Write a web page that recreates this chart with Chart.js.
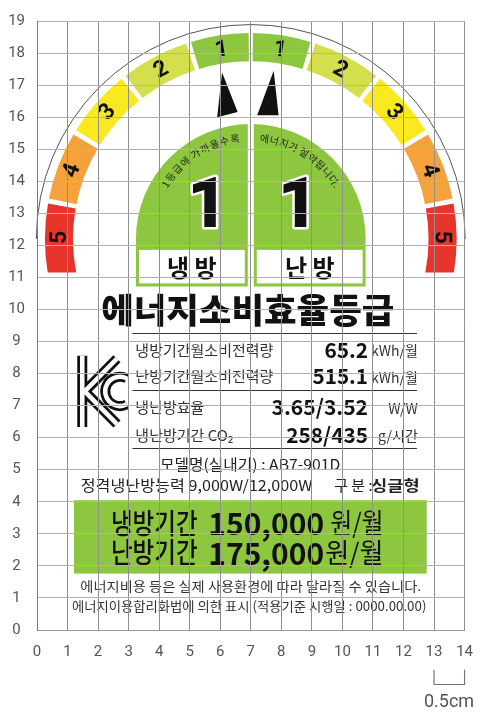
<!DOCTYPE html>
<html>
<head>
<meta charset="utf-8">
<script src="https://cdn.jsdelivr.net/npm/chart.js@4.4.1/dist/chart.umd.min.js"></script>
<style>
  html, body { margin: 0; padding: 0; background: #fff; }
  canvas { display: block; }
</style>
</head>
<body>
<canvas id="labelChart" width="486" height="716"></canvas>
<script>
// grid tick labels
const xTickLabels = ['0', '1', '2', '3', '4', '5', '6', '7', '8', '9', '10', '11', '12', '13', '14'];
const yTickLabels = ['0', '1', '2', '3', '4', '5', '6', '7', '8', '9', '10', '11', '12', '13', '14', '15', '16', '17', '18', '19'];

// grade ring (outside -> top)
const gradeSteps = ['5', '4', '3', '2', '1'];
const gradeColors = ['#e8352b', '#f6a23c', '#fbe91f', '#d5df4e', '#8dc63f'];
const modeNames = ['냉 방', '난 방'];
const modeGrades = ['1', '1'];
const arcNotes = ['1등급에 가까울수록', '에너지가 절약됩니다.'];

// label texts
const titleText = '에너지소비효율등급';
const specLabels = ['냉방기간월소비전력량', '난방기간월소비전력량', '냉난방효율', '냉난방기간 CO₂'];
const specValues = ['65.2', '515.1', '3.65/3.52', '258/435'];
const specUnits = ['kWh/월', 'kWh/월', 'W/W', 'g/시간'];
const modelText = '모델명(실내기) : AB7-901D';
const capacityText = '정격냉난방능력 9,000W/12,000W';
const typeLabel = '구 분 :';
const typeValue = '싱글형';
const costLabels = ['냉방기간', '난방기간'];
const costValues = [150000, 175000];
const costUnit = '원/월';
const footNotes = ['에너지비용 등은 실제 사용환경에 따라 달라질 수 있습니다.',
                   '에너지이용합리화법에 의한 표시 (적용기준 시행일 : 0000.00.00)'];
const scaleNote = '0.5cm';

const KR = '"Noto Sans CJK KR", "Noto Sans", sans-serif';
const GREEN = '#8dc63f';

// draw text squeezed/stretched to a given width (in pixels)
function fitText(ctx, text, px, py, w, align) {
    const m = ctx.measureText(text).width || 1;
    ctx.save();
    ctx.translate(px, py);
    ctx.scale(w / m, 1);
    ctx.textAlign = align;
    ctx.fillText(text, 0, 0);
    ctx.restore();
}

function arcText(ctx, text, cx, cy, r, th0, th1) {
    const chars = Array.from(text);
    const widths = chars.map(c => ctx.measureText(c).width);
    const total = widths.reduce((a, b) => a + b, 0);
    let acc = 0;
    chars.forEach((c, i) => {
        const mid = acc + widths[i] / 2;
        acc += widths[i];
        const th = th0 + (th1 - th0) * mid / total;
        ctx.save();
        ctx.translate(cx + r * Math.cos(th), cy + r * Math.sin(th));
        ctx.rotate(th + Math.PI / 2);
        ctx.fillText(c, 0, 0);
        ctx.restore();
    });
}

const deg = d => d * Math.PI / 180;

const labelArt = {
    id: 'labelArt',
    beforeDraw(chart) {
        const { ctx, scales: { x, y } } = chart;
        const X = v => x.getPixelForValue(v);
        const Y = v => y.getPixelForValue(v);
        const u = X(1) - X(0);
        const cx = X(7), cy = Y(12.2);

        ctx.save();
        ctx.fillStyle = '#fff';
        ctx.fillRect(0, 0, chart.width, chart.height);

        // thin outer arc
        ctx.beginPath();
        ctx.arc(cx, cy, 7.02 * u, Math.PI, 2 * Math.PI);
        ctx.strokeStyle = '#555';
        ctx.lineWidth = 1;
        ctx.stroke();

        // grade bands
        const rOut = 6.74 * u, rIn = 5.82 * u, rMid = (rOut + rIn) / 2;
        ctx.save();
        ctx.beginPath();
        ctx.rect(0, 0, chart.width, Y(11.15));
        ctx.clip();
        const step = 20.6;
        [-1, 1].forEach(side => {
            gradeSteps.forEach((g, i) => {
                const a0 = i === 0 ? -14 : -10 + i * step + 0.7;
                const a1 = i === gradeSteps.length - 1 ? 89.4 : -10 + (i + 1) * step - 0.7;
                const toTh = a => side < 0 ? Math.PI + deg(a) : 2 * Math.PI - deg(a);
                const t0 = Math.min(toTh(a0), toTh(a1)), t1 = Math.max(toTh(a0), toTh(a1));
                ctx.beginPath();
                ctx.arc(cx, cy, rOut, t0, t1, false);
                ctx.arc(cx, cy, rIn, t1, t0, true);
                ctx.closePath();
                ctx.fillStyle = gradeColors[i];
                ctx.fill();
                const tm = toTh(i === 0 ? 0.5 : (a0 + a1) / 2);
                ctx.save();
                ctx.translate(cx + rMid * Math.cos(tm), cy + rMid * Math.sin(tm));
                ctx.rotate(tm + Math.PI / 2);
                ctx.fillStyle = '#111';
                ctx.font = 'bold 23px Roboto, "Liberation Sans", sans-serif';
                ctx.textAlign = 'center';
                ctx.textBaseline = 'middle';
                ctx.fillText(g, 0, 1);
                ctx.restore();
            });
        });
        ctx.restore();

        // pointers
        ctx.fillStyle = '#111';
        [[[6.06, 17.39], [5.9, 16.0], [6.57, 16.16]], [[7.75, 17.45], [7.21, 16.06], [7.91, 16.06]]].forEach(tri => {
            ctx.beginPath();
            tri.forEach((p, k) => k ? ctx.lineTo(X(p[0]), Y(p[1])) : ctx.moveTo(X(p[0]), Y(p[1])));
            ctx.closePath();
            ctx.fill();
        });

        // green half disk
        const rG = 3.76 * u, gBottom = Y(10.72);
        ctx.beginPath();
        ctx.moveTo(cx - rG, cy);
        ctx.arc(cx, cy, rG, Math.PI, 2 * Math.PI);
        ctx.lineTo(cx + rG, gBottom);
        ctx.lineTo(cx - rG, gBottom);
        ctx.closePath();
        ctx.fillStyle = GREEN;
        ctx.fill();
        ctx.fillStyle = '#fff';
        ctx.fillRect(cx - 3, cy - rG - 2, 6, gBottom - cy + rG + 4);

        // mode boxes
        const bTop = Y(11.86), bBot = gBottom - 3;
        const boxes = [[cx - rG + 3, cx - 6], [cx + 6, cx + rG - 3]];
        boxes.forEach((b, i) => {
            ctx.fillStyle = '#fff';
            ctx.fillRect(b[0], bTop, b[1] - b[0], bBot - bTop);
            ctx.fillStyle = '#111';
            ctx.font = 'bold 24px ' + KR;
            ctx.textAlign = 'center';
            ctx.textBaseline = 'middle';
            ctx.fillText(modeNames[i], (b[0] + b[1]) / 2, (bTop + bBot) / 2 + 1);
        });

        // big grade digits
        ctx.font = '900 70px Roboto, "Liberation Sans", sans-serif';
        ctx.textAlign = 'center';
        ctx.textBaseline = 'alphabetic';
        ctx.lineJoin = 'round';
        [5.58, 8.55].forEach((gx, i) => {
            ctx.strokeStyle = '#fff';
            ctx.lineWidth = 5;
            ctx.strokeText(modeGrades[i], X(gx), Y(12.57));
            ctx.fillStyle = '#111';
            ctx.fillText(modeGrades[i], X(gx), Y(12.57));
        });

        // curved notes
        ctx.font = '10px ' + KR;
        ctx.fillStyle = '#222';
        ctx.textAlign = 'center';
        ctx.textBaseline = 'middle';
        arcText(ctx, arcNotes[0], cx, cy, 3.32 * u, deg(-149), deg(-96));
        arcText(ctx, arcNotes[1], cx, cy, 3.32 * u, deg(-85), deg(-31));

        // title
        ctx.fillStyle = '#111';
        ctx.font = '900 34px ' + KR;
        ctx.textBaseline = 'middle';
        fitText(ctx, titleText, X(6.9), Y(9.98), 9.6 * u, 'center');

        // rules
        ctx.strokeStyle = '#333';
        ctx.lineWidth = 1;
        [9.27, 7.48, 5.68].forEach(v => {
            ctx.beginPath();
            ctx.moveTo(X(3.125), Math.round(Y(v)) + 0.5);
            ctx.lineTo(X(12.44), Math.round(Y(v)) + 0.5);
            ctx.stroke();
        });

        // KC mark
        const kx = X(1.21), ky = Y(8.65), kw = X(2.81) - kx, kh = Y(6.24) - ky;
        const P = (a, b) => [kx + a * kw / 50, ky + b * kh / 78];
        const kcPath = () => {
            ctx.beginPath();
            let p = P(8.5, 3); ctx.moveTo(p[0], p[1]);
            p = P(8.5, 75); ctx.lineTo(p[0], p[1]);
            p = P(11, 39); ctx.moveTo(p[0], p[1]);
            p = P(44, 6); ctx.lineTo(p[0], p[1]);
            p = P(11, 39); ctx.moveTo(p[0], p[1]);
            p = P(44, 72); ctx.lineTo(p[0], p[1]);
            const c = P(47, 39);
            ctx.moveTo(c[0] + 15 * Math.cos(deg(-62)) * kw / 50, c[1] + 15 * Math.sin(deg(-62)) * kw / 50);
            ctx.arc(c[0], c[1], 15 * kw / 50, deg(-62), deg(62), true);
        };
        ctx.lineJoin = 'miter';
        ctx.lineCap = 'butt';
        kcPath(); ctx.strokeStyle = '#111'; ctx.lineWidth = 10; ctx.stroke();
        kcPath(); ctx.strokeStyle = '#fff'; ctx.lineWidth = 4.5; ctx.stroke();

        // spec rows
        const rowY = [8.74, 7.91, 6.95, 6.09];
        const valW = [1.43, 1.82, 3.16, 2.68];
        specLabels.forEach((lab, i) => {
            ctx.fillStyle = '#333';
            ctx.font = '15px ' + KR;
            ctx.textAlign = 'left';
            ctx.fillText(lab, X(3.22), Y(rowY[i]));
            ctx.fillStyle = '#111';
            ctx.font = 'bold 21px ' + KR;
            fitText(ctx, specValues[i], X(10.84), Y(rowY[i]), valW[i] * u, 'right');
            ctx.fillStyle = '#333';
            ctx.font = '14px ' + KR;
            ctx.textAlign = 'right';
            ctx.fillText(specUnits[i], X(12.47), Y(rowY[i]) + 1);
        });

        // model and capacity
        ctx.fillStyle = '#222';
        ctx.font = '15px ' + KR;
        fitText(ctx, modelText, X(6.98), Y(5.16), 5.9 * u, 'center');
        fitText(ctx, capacityText, X(1.43), Y(4.51), 7.59 * u, 'left');
        ctx.textAlign = 'left';
        ctx.fillText(typeLabel, X(9.73), Y(4.51));
        ctx.font = 'bold 15px ' + KR;
        fitText(ctx, typeValue, X(10.94), Y(4.51), 1.59 * u, 'left');

        // monthly cost box
        ctx.fillStyle = GREEN;
        ctx.fillRect(X(1.21), Y(4.05), X(12.76) - X(1.21), Y(1.76) - Y(4.05));
        const costY = [3.34, 2.41];
        const unitX = [[9.6, 1.75], [9.44, 1.91]];
        costLabels.forEach((lab, i) => {
            ctx.fillStyle = '#111';
            ctx.font = '500 28px ' + KR;
            fitText(ctx, lab, X(2.42), Y(costY[i]), 2.84 * u, 'left');
            ctx.font = 'bold 31px ' + KR;
            fitText(ctx, costValues[i].toLocaleString('en-US'), X(5.61), Y(costY[i]), 3.79 * u, 'left');
            ctx.font = '27px ' + KR;
            fitText(ctx, costUnit, X(unitX[i][0]), Y(costY[i]), unitX[i][1] * u, 'left');
        });

        // foot notes
        ctx.fillStyle = '#333';
        ctx.font = '13px ' + KR;
        fitText(ctx, footNotes[0], X(7.0), Y(1.36), 11.16 * u, 'center');
        fitText(ctx, footNotes[1], X(6.95), Y(0.74), 11.6 * u, 'center');

        // scale bracket
        ctx.strokeStyle = '#777';
        ctx.lineWidth = 1.2;
        ctx.beginPath();
        ctx.moveTo(X(13), Y(-1.24));
        ctx.lineTo(X(13), Y(-1.7));
        ctx.lineTo(X(14), Y(-1.7));
        ctx.lineTo(X(14), Y(-1.24));
        ctx.stroke();
        ctx.fillStyle = '#555';
        ctx.font = '18px Roboto, sans-serif';
        ctx.textAlign = 'center';
        ctx.fillText(scaleNote, X(13.49), Y(-2.26));

        ctx.restore();
    }
};

new Chart(document.getElementById('labelChart'), {
    type: 'scatter',
    data: { datasets: [] },
    options: {
        responsive: false,
        animation: false,
        layout: { padding: { top: 15, right: 10, left: 0, bottom: 0 } },
        plugins: { legend: { display: false }, tooltip: { enabled: false } },
        scales: {
            x: {
                type: 'linear', min: 0, max: xTickLabels.length - 1,
                afterFit(s) { s.height = 86; },
                afterBuildTicks(s) { s.ticks = xTickLabels.map((_, i) => ({ value: i })); },
                ticks: {
                    callback: (v, i) => xTickLabels[i],
                    color: '#555', font: { family: 'Roboto', size: 15 },
                    padding: 13, maxRotation: 0, autoSkip: false
                },
                grid: { color: '#8e8e8e', drawTicks: false },
                border: { color: '#9a9a9a' }
            },
            y: {
                type: 'linear', min: 0, max: yTickLabels.length - 1,
                afterFit(s) { s.width = 37; },
                afterBuildTicks(s) { s.ticks = yTickLabels.map((_, i) => ({ value: i })); },
                ticks: {
                    callback: (v, i) => yTickLabels[i],
                    color: '#555', font: { family: 'Roboto', size: 15 },
                    padding: 12, crossAlign: 'center', autoSkip: false
                },
                grid: { color: '#b3b3b3', drawTicks: false },
                border: { color: '#7a7a7a' }
            }
        }
    },
    plugins: [labelArt]
});
</script>
</body>
</html>
